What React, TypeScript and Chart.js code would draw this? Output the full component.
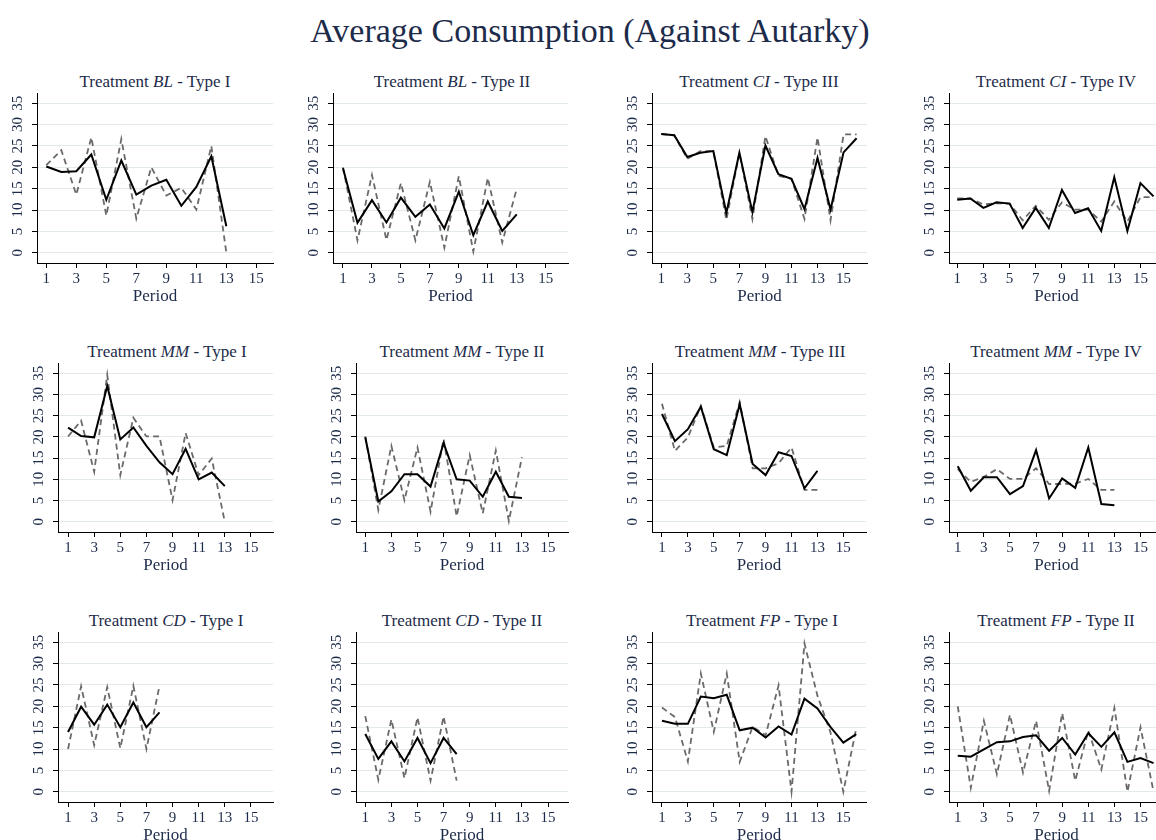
import React, { useEffect, useRef } from "react";
import { Chart, registerables } from "chart.js";

Chart.register(...registerables);

// ---------- data ----------
const PERIODS = [1, 2, 3, 4, 5, 6, 7, 8, 9, 10, 11, 12, 13, 14, 15, 16];
const X_TICKS = [1, 3, 5, 7, 9, 11, 13, 15];
const Y_TICKS = [0, 5, 10, 15, 20, 25, 30, 35];

const blTypeI = [20.2, 18.9, 19.1, 23.0, 12.4, 21.6, 13.6, 15.7, 17.1, 11.0, 15.4, 22.6, 6.2];
const blTypeIAutarky = [20.5, 24.0, 13.6, 27.0, 8.7, 26.6, 8.0, 20.0, 13.4, 15.2, 10.1, 25.0, 0];

const blTypeII = [19.8, 7.0, 12.3, 7.1, 12.9, 8.4, 11.3, 5.7, 14.3, 4.1, 12.0, 5.1, 9.0];
const blTypeIIAutarky = [20.0, 2.9, 18.2, 3.0, 16.3, 2.9, 16.6, 1.2, 17.9, 0.3, 17.5, 2.4, 15.0];

const ciTypeIII = [27.8, 27.5, 22.4, 23.4, 23.8, 9.3, 23.4, 9.5, 25.1, 18.4, 17.3, 10.2, 22.2, 10.1, 23.5, 26.8];
const ciTypeIIIAutarky = [27.8, 27.5, 22.0, 23.8, 23.8, 7.7, 23.4, 7.9, 27.3, 18.0, 17.3, 7.9, 27.0, 7.6, 27.7, 27.7];

const ciTypeIV = [12.4, 12.7, 10.5, 11.8, 11.5, 5.8, 10.5, 5.8, 14.7, 9.3, 10.4, 5.1, 17.7, 5.1, 16.3, 13.2];
const ciTypeIVAutarky = [12.7, 12.7, 11.3, 11.6, 11.5, 7.6, 11.0, 7.7, 11.8, 10.1, 10.1, 7.3, 12.0, 7.3, 13.0, 13.0];

const mmTypeI = [22.2, 20.2, 19.9, 32.0, 19.4, 22.2, 17.9, 14.0, 11.2, 17.2, 10.0, 11.6, 8.4];
const mmTypeIAutarky = [20.1, 23.8, 11.8, 34.6, 11.0, 24.5, 20.1, 20.1, 5.1, 20.9, 11.0, 14.9, 0];

const mmTypeII = [19.9, 4.8, 7.2, 11.2, 11.2, 8.3, 18.5, 10.0, 9.7, 5.9, 11.8, 5.9, 5.6];
const mmTypeIIAutarky = [20.1, 2.8, 17.9, 5.1, 17.5, 2.4, 19.5, 1.3, 15.7, 2.0, 16.8, 0.2, 15.2];

const mmTypeIII = [25.4, 19.0, 21.8, 27.1, 17.1, 15.7, 27.7, 13.6, 11.0, 16.4, 15.5, 7.9, 12.0];
const mmTypeIIIAutarky = [27.8, 16.7, 19.9, 27.3, 17.5, 17.9, 28.2, 12.6, 12.6, 13.8, 17.5, 7.5, 7.5];

const mmTypeIV = [13.1, 7.3, 10.5, 10.5, 6.5, 8.4, 16.9, 5.5, 10.2, 8.0, 17.5, 4.2, 3.9];
const mmTypeIVAutarky = [12.4, 9.4, 10.6, 12.4, 10.1, 10.1, 12.6, 8.9, 8.9, 9.0, 10.1, 7.5, 7.5];

const cdTypeI = [14.0, 19.9, 15.7, 20.4, 15.1, 20.9, 15.1, 18.6];
const cdTypeIAutarky = [10.0, 24.7, 10.9, 24.5, 10.2, 24.8, 10.0, 24.8];

const cdTypeII = [13.5, 7.7, 11.8, 7.1, 12.6, 6.7, 12.6, 8.8];
const cdTypeIIAutarky = [17.7, 2.8, 16.9, 3.2, 17.4, 2.6, 17.6, 2.6];

const fpTypeI = [16.6, 15.9, 15.9, 22.3, 21.9, 22.7, 14.4, 15.0, 12.7, 15.3, 13.4, 21.8, 19.5, 15.2, 11.5, 13.5];
const fpTypeIAutarky = [19.7, 17.5, 7.1, 27.7, 14.0, 27.7, 7.0, 15.2, 13.2, 24.9, 0, 34.7, 22.5, 14.0, 0, 14.9];

const fpTypeII = [8.4, 8.2, 9.9, 11.6, 11.8, 12.8, 13.2, 9.6, 12.6, 8.7, 13.7, 10.5, 13.9, 7.0, 7.9, 6.7];
const fpTypeIIAutarky = [20.0, 0.9, 16.6, 4.1, 18.0, 4.5, 16.6, 0.2, 18.4, 2.6, 14.3, 5.2, 19.6, 0, 15.1, 0];

// ---------- layout / style ----------
const FONT = "'Liberation Serif', 'Times New Roman', Times, serif";
const TEXT = "#1d2b4a";
const GRID = "#e3eaec";
const Y_MIN = -2.4;
const Y_MAX = 37.4;
const Y_AXIS_W = 30;
const X_AXIS_H = 44;
const PAD_TOP = 20;
const PAD_RIGHT = 2;

type PanelCfg = {
  treat: string; type: string; avg: number[]; aut: number[];
  left: number; right: number; top: number; bottom: number;
  xmin: number; xmax: number; tx: number; ty: number;
};

const PANELS: PanelCfg[] = [
  { treat: "BL", type: "I", avg: blTypeI, aut: blTypeIAutarky, left: 37, right: 273, top: 93, bottom: 263, xmin: 0.38, xmax: 16.11, tx: 155, ty: 82 },
  { treat: "BL", type: "II", avg: blTypeII, aut: blTypeIIAutarky, left: 333, right: 568, top: 93, bottom: 263, xmin: 0.31, xmax: 16.54, tx: 452, ty: 82 },
  { treat: "CI", type: "III", avg: ciTypeIII, aut: ciTypeIIIAutarky, left: 652, right: 867, top: 93, bottom: 263, xmin: 0.29, xmax: 16.8, tx: 759, ty: 82 },
  { treat: "CI", type: "IV", avg: ciTypeIV, aut: ciTypeIVAutarky, left: 949, right: 1164, top: 93, bottom: 263, xmin: 0.37, xmax: 16.8, tx: 1056, ty: 82 },
  { treat: "MM", type: "I", avg: mmTypeI, aut: mmTypeIAutarky, left: 58, right: 273, top: 363, bottom: 532, xmin: 0.23, xmax: 16.69, tx: 167, ty: 352 },
  { treat: "MM", type: "II", avg: mmTypeII, aut: mmTypeIIAutarky, left: 356, right: 568, top: 363, bottom: 532, xmin: 0.29, xmax: 16.53, tx: 462, ty: 352 },
  { treat: "MM", type: "III", avg: mmTypeIII, aut: mmTypeIIIAutarky, left: 652, right: 866, top: 363, bottom: 532, xmin: 0.23, xmax: 16.75, tx: 760, ty: 352 },
  { treat: "MM", type: "IV", avg: mmTypeIV, aut: mmTypeIVAutarky, left: 949, right: 1164, top: 363, bottom: 532, xmin: 0.33, xmax: 16.8, tx: 1056, ty: 352 },
  { treat: "CD", type: "I", avg: cdTypeI, aut: cdTypeIAutarky, left: 58, right: 273, top: 632, bottom: 802, xmin: 0.23, xmax: 16.69, tx: 166, ty: 621 },
  { treat: "CD", type: "II", avg: cdTypeII, aut: cdTypeIIAutarky, left: 356, right: 568, top: 632, bottom: 802, xmin: 0.29, xmax: 16.53, tx: 462, ty: 621 },
  { treat: "FP", type: "I", avg: fpTypeI, aut: fpTypeIAutarky, left: 652, right: 866, top: 632, bottom: 802, xmin: 0.23, xmax: 16.75, tx: 762, ty: 621 },
  { treat: "FP", type: "II", avg: fpTypeII, aut: fpTypeIIAutarky, left: 949, right: 1164, top: 632, bottom: 802, xmin: 0.33, xmax: 16.8, tx: 1056, ty: 621 },
];

const toPoints = (vals: number[]) => vals.map((v, i) => ({ x: PERIODS[i], y: v }));

function Panel({ cfg }: { cfg: PanelCfg }) {
  const ref = useRef<HTMLCanvasElement | null>(null);
  const width = cfg.right - cfg.left + Y_AXIS_W + PAD_RIGHT;
  const height = cfg.bottom - cfg.top + PAD_TOP + X_AXIS_H;

  useEffect(() => {
    if (!ref.current) return;
    const chart = new Chart(ref.current, {
      type: "line",
      data: {
        datasets: [
          {
            label: "Average consumption",
            data: toPoints(cfg.avg),
            borderColor: "#000000",
            borderWidth: 2,
            pointRadius: 0,
            tension: 0,
            fill: false,
          },
          {
            label: "Autarky",
            data: toPoints(cfg.aut),
            borderColor: "#6a6a6a",
            borderWidth: 1.8,
            borderDash: [6, 4],
            pointRadius: 0,
            tension: 0,
            fill: false,
          },
        ],
      },
      options: {
        animation: false,
        responsive: false,
        events: [],
        layout: { padding: { top: PAD_TOP, right: PAD_RIGHT, left: 0, bottom: 0 } },
        plugins: { legend: { display: false }, tooltip: { enabled: false }, title: { display: false } },
        scales: {
          x: {
            type: "linear",
            min: cfg.xmin,
            max: cfg.xmax,
            afterBuildTicks: (s: any) => { s.ticks = X_TICKS.map((v) => ({ value: v })); },
            afterFit: (s: any) => { s.height = X_AXIS_H; },
            ticks: { font: { family: FONT, size: 15 }, color: TEXT, padding: 2, maxRotation: 0, minRotation: 0, autoSkip: false },
            grid: { display: true, drawOnChartArea: false, tickLength: 5, tickColor: "#000", color: "#000" },
            border: { display: true, color: "#000", width: 1 },
            title: { display: true, text: "Period", font: { family: FONT, size: 17 }, color: TEXT, padding: 0 },
          },
          y: {
            type: "linear",
            min: Y_MIN,
            max: Y_MAX,
            afterBuildTicks: (s: any) => { s.ticks = Y_TICKS.map((v) => ({ value: v })); },
            afterFit: (s: any) => { s.width = Y_AXIS_W; },
            ticks: { font: { family: FONT, size: 15 }, color: TEXT, padding: 6, minRotation: 90, maxRotation: 90, crossAlign: "center" },
            grid: { color: GRID, lineWidth: 1, tickLength: 5, tickColor: "#000" },
            border: { display: true, color: "#000", width: 1 },
          },
        },
      } as any,
    });
    return () => chart.destroy();
  }, [cfg]);

  return (
    <>
      <div
        style={{
          position: "absolute",
          left: cfg.tx,
          top: cfg.ty - 10,
          transform: "translateX(-50%)",
          fontFamily: FONT,
          fontSize: 17,
          lineHeight: "20px",
          color: TEXT,
          whiteSpace: "nowrap",
        }}
      >
        Treatment <i>{cfg.treat}</i> - Type {cfg.type}
      </div>
      <canvas
        ref={ref}
        width={width}
        height={height}
        style={{ position: "absolute", left: cfg.left - Y_AXIS_W, top: cfg.top - PAD_TOP, width, height }}
      />
    </>
  );
}

export default function App() {
  return (
    <div
      style={{
        position: "absolute",
        left: 0,
        top: 0,
        width: 1156,
        height: 840,
        overflow: "hidden",
        background: "#ffffff",
      }}
    >
      <div
        style={{
          position: "absolute",
          left: 590,
          top: 11,
          transform: "translateX(-50%)",
          fontFamily: FONT,
          fontSize: 34,
          lineHeight: "40px",
          color: TEXT,
          whiteSpace: "nowrap",
        }}
      >
        Average Consumption (Against Autarky)
      </div>
      {PANELS.map((p, i) => (
        <Panel key={i} cfg={p} />
      ))}
    </div>
  );
}
